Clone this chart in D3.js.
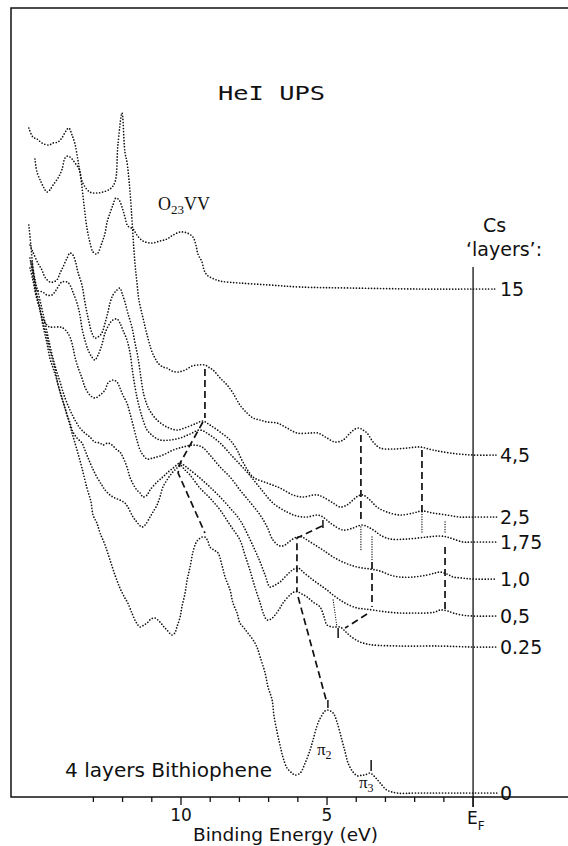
<!DOCTYPE html>
<html>
<head>
<meta charset="utf-8">
<script src="https://cdnjs.cloudflare.com/ajax/libs/d3/7.8.5/d3.min.js"></script>
<style>
body { margin: 0; background: #fff; }
svg { display: block; }
text { font-family: "DejaVu Sans", sans-serif; fill: #111; }
.serif { font-family: "Liberation Serif", "DejaVu Serif", serif; }
</style>
</head>
<body>
<div id="chart"></div>
<script>
// HeI UPS spectra, [binding energy (eV), counts (arb. units incl. offset)]
var spec15 = [[15.21,669],[15.07,660],[14.93,658],[14.76,654],[14.52,652],[14.38,654],[14.21,655],[14.08,659],[13.94,666],[13.84,669],[13.73,662],[13.63,653],[13.53,637],[13.42,617],[13.32,592],[13.22,569],[13.12,555],[13.01,545],[12.88,543],[12.71,554],[12.60,564],[12.53,575],[12.43,584],[12.33,592],[12.23,599],[12.12,597],[12.02,590],[11.92,580],[11.82,571],[11.64,568],[11.51,562],[11.30,556],[10.99,554],[10.72,556],[10.48,558],[10.27,562],[10.03,565],[9.79,564],[9.59,560],[9.49,552],[9.42,543],[9.28,535],[9.21,527],[9.11,522],[8.94,519],[8.66,516],[7.98,514],[6.95,512],[5.92,510],[4.21,509],[1.82,508],[0.00,508],[-0.82,508]];

var spec4_5 = [[15.00,638],[14.93,625],[14.79,615],[14.69,609],[14.59,605],[14.49,607],[14.38,612],[14.21,619],[14.08,627],[13.97,639],[13.87,641],[13.73,638],[13.63,634],[13.49,628],[13.36,614],[13.12,605],[12.88,604],[12.67,605],[12.43,608],[12.26,615],[12.16,652],[12.02,684],[11.92,645],[11.85,635],[11.75,607],[11.58,535],[11.51,515],[11.44,497],[11.30,479],[11.16,462],[10.99,445],[10.89,439],[10.79,434],[10.62,430],[10.48,429],[10.31,426],[10.10,425],[9.86,427],[9.62,431],[9.42,432],[9.18,432],[9.01,429],[8.90,427],[8.66,419],[8.42,412],[8.22,404],[7.98,392],[7.74,384],[7.53,379],[7.29,377],[7.05,375],[6.71,374],[6.37,369],[6.03,364],[5.58,364],[5.31,364],[5.00,359],[4.73,355],[4.45,357],[4.21,364],[4.04,368],[3.90,369],[3.77,367],[3.63,364],[3.42,355],[3.18,349],[2.74,348],[2.26,349],[1.82,350],[1.37,347],[0.79,344],[0.00,342],[-0.82,342]];

var spec2_5 = [[15.17,552],[15.07,545],[14.90,534],[14.76,527],[14.66,520],[14.49,515],[14.38,515],[14.25,517],[14.14,524],[14.04,530],[13.90,539],[13.80,544],[13.70,542],[13.60,534],[13.53,525],[13.39,512],[13.29,495],[13.18,479],[13.05,464],[12.95,459],[12.84,460],[12.71,464],[12.60,474],[12.50,485],[12.43,494],[12.33,502],[12.19,507],[12.09,509],[12.02,504],[11.92,495],[11.82,484],[11.68,470],[11.58,455],[11.47,439],[11.37,419],[11.27,402],[11.16,392],[11.06,386],[10.82,377],[10.48,370],[10.14,367],[9.79,370],[9.45,374],[9.25,376],[9.01,372],[8.66,365],[8.32,357],[8.08,347],[7.88,335],[7.53,320],[7.05,314],[6.61,309],[6.16,302],[5.82,300],[5.48,302],[5.31,302],[5.14,300],[4.79,294],[4.55,290],[4.32,292],[4.11,297],[3.94,301],[3.77,302],[3.53,297],[3.29,290],[2.95,285],[2.50,282],[2.05,284],[1.75,286],[1.37,284],[0.89,282],[0.45,280],[0.00,280],[-0.82,280]];

var spec1_75 = [[15.10,535],[15.00,517],[14.93,507],[14.73,505],[14.59,502],[14.42,502],[14.32,505],[14.21,510],[14.08,515],[13.90,515],[13.80,512],[13.70,505],[13.56,494],[13.46,482],[13.39,469],[13.29,457],[13.18,447],[13.05,440],[12.95,437],[12.84,442],[12.71,452],[12.60,464],[12.43,474],[12.33,477],[12.19,478],[12.09,474],[11.99,467],[11.85,457],[11.75,445],[11.64,422],[11.51,400],[11.40,387],[11.30,377],[11.16,367],[10.96,361],[10.72,357],[10.38,357],[10.03,359],[9.69,363],[9.35,367],[9.01,362],[8.66,354],[8.22,340],[7.74,325],[7.29,309],[6.85,294],[6.37,285],[6.03,281],[5.68,280],[5.34,282],[5.14,280],[4.97,276],[4.79,272],[4.45,267],[4.11,269],[3.94,271],[3.80,272],[3.66,271],[3.53,269],[3.36,266],[3.18,262],[2.84,258],[2.26,258],[1.58,260],[1.13,261],[0.89,260],[0.68,258],[0.34,255],[0.03,255],[-0.82,255]];

var spec1_0 = [[15.17,539],[15.07,522],[14.97,505],[14.86,492],[14.76,480],[14.59,472],[14.49,470],[14.32,470],[14.14,470],[14.04,469],[13.90,465],[13.80,460],[13.70,450],[13.63,440],[13.53,430],[13.39,419],[13.29,410],[13.12,402],[12.95,399],[12.77,402],[12.60,407],[12.50,414],[12.33,417],[12.19,415],[12.09,409],[11.99,402],[11.85,394],[11.75,384],[11.64,372],[11.51,357],[11.40,347],[11.30,342],[11.16,338],[10.96,339],[10.62,342],[10.27,347],[9.93,350],[9.59,352],[9.28,350],[9.01,342],[8.66,330],[8.32,320],[7.98,307],[7.64,295],[7.29,282],[7.05,270],[6.85,257],[6.61,251],[6.44,252],[6.27,256],[6.03,260],[5.86,260],[5.68,257],[5.41,252],[5.14,247],[4.79,240],[4.38,234],[3.97,230],[3.53,228],[3.18,226],[2.84,222],[2.50,220],[2.05,220],[1.58,222],[1.30,224],[1.13,225],[0.89,223],[0.68,220],[0.38,219],[0.03,218],[-0.82,218]];

var spec0_5 = [[15.14,535],[15.00,517],[14.83,497],[14.66,475],[14.49,452],[14.32,432],[14.14,415],[13.97,399],[13.80,387],[13.63,377],[13.46,369],[13.29,364],[13.12,360],[12.95,355],[12.77,354],[12.67,352],[12.50,354],[12.36,352],[12.19,347],[12.09,345],[11.99,340],[11.85,330],[11.75,320],[11.64,313],[11.51,307],[11.40,304],[11.30,300],[11.16,302],[11.06,307],[10.82,315],[10.62,320],[10.48,324],[10.27,329],[10.03,334],[9.86,331],[9.69,327],[9.35,319],[9.01,310],[8.66,300],[8.32,289],[7.98,277],[7.71,262],[7.47,247],[7.29,235],[7.12,222],[6.95,210],[6.78,212],[6.61,215],[6.44,220],[6.27,225],[6.13,228],[6.03,229],[5.92,228],[5.82,225],[5.65,221],[5.48,217],[5.24,212],[5.00,207],[4.79,202],[4.55,197],[4.32,193],[3.97,189],[3.70,188],[3.42,187],[2.95,185],[2.50,184],[2.05,184],[1.58,184],[1.30,185],[1.13,187],[1.03,187],[0.86,186],[0.68,184],[0.38,182],[0.03,181],[-0.82,181]];

var spec0_25 = [[15.17,529],[15.07,517],[14.97,502],[14.83,487],[14.73,475],[14.59,460],[14.49,447],[14.32,429],[14.21,412],[14.08,400],[13.97,389],[13.90,382],[13.80,374],[13.70,365],[13.56,359],[13.39,354],[13.29,347],[13.18,339],[13.05,330],[12.88,320],[12.71,312],[12.60,307],[12.43,302],[12.26,299],[12.09,297],[11.92,294],[11.82,290],[11.64,280],[11.51,275],[11.34,270],[11.23,272],[11.06,280],[10.96,285],[10.82,292],[10.72,300],[10.62,310],[10.48,317],[10.31,324],[10.14,329],[10.03,332],[9.86,327],[9.69,322],[9.35,309],[9.01,299],[8.66,287],[8.32,272],[7.98,257],[7.81,242],[7.64,227],[7.47,210],[7.29,194],[7.16,182],[7.05,177],[6.92,178],[6.78,182],[6.61,189],[6.51,194],[6.27,202],[6.13,205],[5.99,205],[5.86,203],[5.68,200],[5.48,195],[5.24,190],[5.10,180],[5.00,172],[4.79,170],[4.55,170],[4.42,167],[4.32,164],[4.11,159],[3.87,155],[3.63,153],[3.42,152],[2.50,151],[1.13,151],[0.03,150],[-0.82,150]];

var spec0 = [[15.21,572],[15.14,552],[15.07,529],[14.97,507],[14.83,489],[14.73,472],[14.59,454],[14.49,439],[14.38,429],[14.25,417],[14.08,399],[13.90,382],[13.73,364],[13.56,347],[13.39,329],[13.22,309],[13.08,295],[13.01,282],[12.88,274],[12.77,264],[12.60,252],[12.43,237],[12.26,222],[12.09,209],[11.92,199],[11.82,194],[11.68,184],[11.54,175],[11.40,170],[11.27,172],[11.16,174],[11.03,178],[10.89,179],[10.72,175],[10.58,170],[10.48,167],[10.31,162],[10.21,164],[10.14,170],[10.03,180],[9.97,190],[9.86,204],[9.79,217],[9.69,230],[9.59,245],[9.49,254],[9.42,257],[9.28,260],[9.18,260],[9.08,256],[9.01,250],[8.87,247],[8.73,244],[8.60,232],[8.49,220],[8.32,207],[8.22,194],[8.08,184],[7.98,174],[7.84,169],[7.71,164],[7.53,157],[7.40,150],[7.29,140],[7.12,124],[7.02,110],[6.88,97],[6.82,82],[6.71,65],[6.61,52],[6.51,40],[6.37,29],[6.20,24],[6.10,22],[5.92,24],[5.75,34],[5.58,47],[5.48,57],[5.31,74],[5.17,82],[5.07,86],[4.97,87],[4.79,84],[4.66,75],[4.49,57],[4.38,45],[4.28,34],[4.11,25],[3.94,21],[3.80,22],[3.70,22],[3.53,24],[3.36,20],[3.18,14],[2.95,7],[2.60,4],[1.92,4],[0.00,4],[-0.82,4]];

var spectra = [spec15, spec4_5, spec2_5, spec1_75, spec1_0, spec0_5, spec0_25, spec0];
var layerLabels = ["15", "4,5", "2,5", "1,75", "1,0", "0,5", "0.25", "0"];

// peak-shift guide lines
var dashedGuides = [
    [[9.18,428],[9.18,379]],
    [[9.25,375],[10.03,334],[10.10,324],[9.18,264]],
    [[5.17,271],[6.03,259],[6.03,205]],
    [[5.99,200],[5.03,97]],
    [[3.84,362],[3.84,277]],
    [[3.46,235],[3.46,190]],
    [[3.63,183],[4.38,169]],
    [[1.75,347],[1.75,285]],
    [[0.96,250],[0.96,187]]
];
var dottedGuides = [
    [[3.84,270],[3.84,245]],
    [[3.46,260],[3.46,237]],
    [[4.79,197],[4.66,170]],
    [[1.75,285],[1.75,264]],
    [[0.96,275],[0.96,264]]
];
var peakTicks = [
    [[5.14,277],[5.14,269]],
    [[4.97,97],[4.97,89]],
    [[4.62,169],[4.62,159]],
    [[3.49,37],[3.49,26]]
];

var tickValues = [13, 12, 11, 10, 9, 8, 7, 6, 5, 4, 3, 2, 1, 0];
var tickLabels = {10: "10", 5: "5"};

var width = 568, height = 846;

var svg = d3.select("#chart").append("svg")
    .attr("width", width)
    .attr("height", height);

var x = d3.scaleLinear().domain([15.82, -3.25]).range([11, 568]);
var y = d3.scaleLinear().domain([0, 789]).range([797, 8]);

var line = d3.line()
    .x(function(d) { return x(d[0]); })
    .y(function(d) { return y(d[1]); })
    .curve(d3.curveCatmullRom.alpha(0.5));

var straight = d3.line()
    .x(function(d) { return x(d[0]); })
    .y(function(d) { return y(d[1]); });

// frame
svg.append("path")
    .attr("d", "M" + x.range()[1] + "," + y.range()[1] + "H" + x.range()[0] + "V" + y.range()[0] + "H" + x.range()[1])
    .attr("fill", "none")
    .attr("stroke", "#111")
    .attr("stroke-width", 1.5);

// E_F line
svg.append("line")
    .attr("x1", x(0)).attr("x2", x(0))
    .attr("y1", 267).attr("y2", y(0) + 10)
    .attr("stroke", "#111")
    .attr("stroke-width", 1.3);

// axis ticks
svg.selectAll(".tick")
    .data(tickValues)
    .enter().append("line")
    .attr("class", "tick")
    .attr("x1", function(d) { return x(d); })
    .attr("x2", function(d) { return x(d); })
    .attr("y1", y(0))
    .attr("y2", function(d) { return y(0) + (d == 0 ? 10 : (d % 5 == 0 ? 8 : 5)); })
    .attr("stroke", "#111")
    .attr("stroke-width", 1.3);

svg.selectAll(".ticklabel")
    .data([10, 5])
    .enter().append("text")
    .attr("class", "ticklabel")
    .attr("x", function(d) { return x(d); })
    .attr("y", 821)
    .attr("text-anchor", "middle")
    .attr("font-size", 17)
    .text(function(d) { return tickLabels[d]; });

var ef = svg.append("text")
    .attr("x", x(0) - 6)
    .attr("y", 824)
    .attr("font-size", 17);
ef.append("tspan").text("E");
ef.append("tspan").attr("font-size", 12).attr("dy", 6).text("F");

svg.append("text")
    .attr("x", 193)
    .attr("y", 841)
    .attr("font-size", 17)
    .attr("textLength", 185)
    .attr("lengthAdjust", "spacingAndGlyphs")
    .text("Binding Energy (eV)");

// spectra
svg.selectAll(".spectrum")
    .data(spectra)
    .enter().append("path")
    .attr("class", "spectrum")
    .attr("d", line)
    .attr("fill", "none")
    .attr("stroke", "#111")
    .attr("stroke-width", 1.7)
    .attr("stroke-linecap", "round")
    .attr("stroke-dasharray", "0 3");

// layer labels
svg.selectAll(".layerlabel")
    .data(spectra)
    .enter().append("text")
    .attr("class", "layerlabel")
    .attr("x", x(-0.92))
    .attr("y", function(d) { return y(d[d.length - 1][1]) + 7; })
    .attr("font-size", 19)
    .text(function(d, i) { return layerLabels[i]; });

// guides
svg.selectAll(".dashguide")
    .data(dashedGuides)
    .enter().append("path")
    .attr("class", "dashguide")
    .attr("d", straight)
    .attr("fill", "none")
    .attr("stroke", "#111")
    .attr("stroke-width", 1.7)
    .attr("stroke-dasharray", "7 4");

svg.selectAll(".dotguide")
    .data(dottedGuides)
    .enter().append("path")
    .attr("class", "dotguide")
    .attr("d", straight)
    .attr("fill", "none")
    .attr("stroke", "#111")
    .attr("stroke-width", 1.3)
    .attr("stroke-linecap", "round")
    .attr("stroke-dasharray", "0 2.5");

svg.selectAll(".peaktick")
    .data(peakTicks)
    .enter().append("path")
    .attr("class", "peaktick")
    .attr("d", straight)
    .attr("fill", "none")
    .attr("stroke", "#111")
    .attr("stroke-width", 1.5);

// annotations
svg.append("text")
    .attr("x", 218).attr("y", 100)
    .attr("font-size", 20)
    .attr("textLength", 107)
    .attr("lengthAdjust", "spacingAndGlyphs")
    .style("font-family", "'DejaVu Sans Mono', monospace")
    .text("HeI  UPS");

var o23 = svg.append("text")
    .attr("class", "serif")
    .attr("x", 158).attr("y", 210)
    .attr("font-size", 18);
o23.append("tspan").text("O");
o23.append("tspan").attr("font-size", 13).attr("dy", 4).text("23");
o23.append("tspan").attr("dy", -4).text("VV");

svg.append("text")
    .attr("x", 483).attr("y", 232)
    .attr("font-size", 19)
    .text("Cs");
svg.append("text")
    .attr("x", 466).attr("y", 256)
    .attr("font-size", 19)
    .text("\u2018layers\u2019:");

svg.append("text")
    .attr("x", 65).attr("y", 777)
    .attr("font-size", 20)
    .attr("textLength", 207)
    .attr("lengthAdjust", "spacingAndGlyphs")
    .text("4 layers Bithiophene");

var pi2 = svg.append("text")
    .attr("class", "serif")
    .attr("x", 317).attr("y", 755)
    .attr("font-size", 17);
pi2.append("tspan").text("\u03c0");
pi2.append("tspan").attr("font-size", 12).attr("dy", 4).text("2");

var pi3 = svg.append("text")
    .attr("class", "serif")
    .attr("x", 359).attr("y", 788)
    .attr("font-size", 17);
pi3.append("tspan").text("\u03c0");
pi3.append("tspan").attr("font-size", 12).attr("dy", 4).text("3");
</script>
</body>
</html>
